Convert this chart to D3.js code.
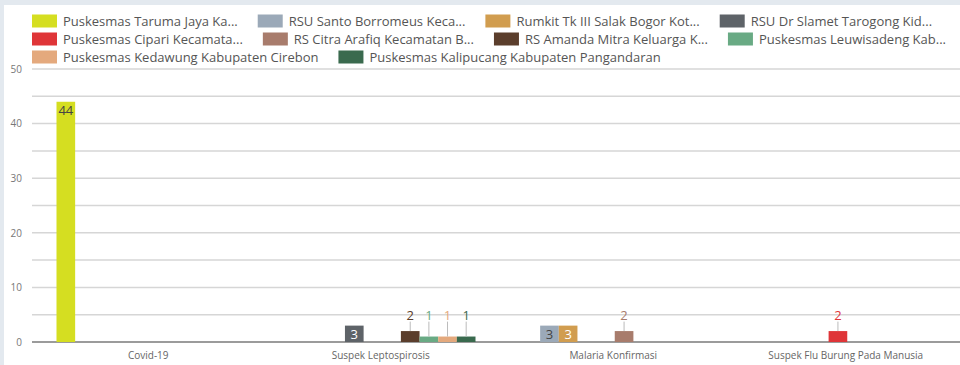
<!DOCTYPE html>
<html>
<head>
<meta charset="utf-8">
<script src="https://cdn.jsdelivr.net/npm/d3@7"></script>
<style>
  body { margin: 0; background: #e3e9ef; }
  svg { display: block; }
</style>
</head>
<body>
<script>

// Chart data
var categories = ["Covid-19", "Suspek Leptospirosis", "Malaria Konfirmasi", "Suspek Flu Burung Pada Manusia"];

var seriesNames = [
  "Puskesmas Taruma Jaya Ka...",
  "RSU Santo Borromeus Keca...",
  "Rumkit Tk III Salak Bogor Kot...",
  "RSU Dr Slamet Tarogong Kid...",
  "Puskesmas Cipari Kecamata...",
  "RS Citra Arafiq Kecamatan B...",
  "RS Amanda Mitra Keluarga K...",
  "Puskesmas Leuwisadeng Kab...",
  "Puskesmas Kedawung Kabupaten Cirebon",
  "Puskesmas Kalipucang Kabupaten Pangandaran"
];

var seriesColors = ["#d5de21", "#9ba9b8", "#d19d4f", "#5e6368", "#df3538",
                    "#a87c6c", "#5b3e2c", "#69aa84", "#e4a97d", "#3a6a4e"];

// values per series, one per category
var seriesValues = [
  [44, 0, 0, 0],
  [0, 0, 3, 0],
  [0, 0, 3, 0],
  [0, 3, 0, 0],
  [0, 0, 0, 2],
  [0, 0, 2, 0],
  [0, 2, 0, 0],
  [0, 1, 0, 0],
  [0, 1, 0, 0],
  [0, 1, 0, 0]
];

var yTicks = [0, 10, 20, 30, 40, 50];
var yGrid = [0, 5, 10, 15, 20, 25, 30, 35, 40, 45, 50];

// label colour for labels drawn inside the bar
var insideLabelColors = ["#444", "#444", "#fff", "#fff", "#fff", "#fff", "#fff", "#fff", "#fff", "#fff"];

var svg_width = 960, svg_height = 365;
var plot = {left: 32, right: 962, top: 69, bottom: 342};
var fontFamily = "'Open Sans', sans-serif";

var svg = d3.select("body").append("svg")
            .attr("width", svg_width)
            .attr("height", svg_height);

// Card background
svg.append("rect").attr("x", 4).attr("y", 5)
                  .attr("width", svg_width).attr("height", svg_height)
                  .style("fill", "white");

var xScale = d3.scaleBand()
               .domain(categories)
               .range([plot.left, plot.right]);

var xInner = d3.scaleBand()
               .domain(d3.range(seriesNames.length))
               .range([24.5, xScale.bandwidth() - 21.5]);

var yScale = d3.scaleLinear()
               .domain([0, 50])
               .range([plot.bottom, plot.top]);

// Gridlines
svg.append("g").selectAll("line")
   .data(yGrid)
   .join("line")
   .attr("x1", plot.left).attr("x2", svg_width)
   .attr("y1", function(d) { return yScale(d); })
   .attr("y2", function(d) { return yScale(d); })
   .style("stroke", function(d) { return d === 0 ? "#7a7a7a" : "#d6d6d6"; })
   .style("stroke-width", 1.5);

// Y axis labels
var yAxis = d3.axisLeft(yScale).tickValues(yTicks).tickSize(0).tickPadding(0);
var yAxisG = svg.append("g")
                .attr("transform", "translate(22,0)")
                .call(yAxis);
yAxisG.select(".domain").remove();
yAxisG.selectAll("text")
      .style("font-family", fontFamily)
      .style("font-size", "10px")
      .style("fill", "#777");

// X axis labels
var xAxis = d3.axisBottom(xScale).tickSize(0).tickPadding(0);
var xAxisG = svg.append("g")
                .attr("transform", "translate(0," + (plot.bottom + 10) + ")")
                .call(xAxis);
xAxisG.select(".domain").remove();
xAxisG.selectAll("text")
      .style("font-family", fontFamily)
      .style("font-size", "10px")
      .style("fill", "#666");

// Bars
var barData = [];
seriesValues.forEach(function(vals, s) {
  vals.forEach(function(v, c) {
    if (v > 0) barData.push({series: s, category: categories[c], value: v});
  });
});

var barsGroup = svg.append("g").attr("id", "bars_group");

barsGroup.selectAll("rect")
   .data(barData)
   .join("rect")
   .attr("x", function(d) { return xScale(d.category) + xInner(d.series); })
   .attr("width", xInner.bandwidth())
   .attr("y", function(d) { return yScale(d.value); })
   .attr("height", function(d) { return yScale(0) - yScale(d.value); })
   .style("fill", function(d) { return seriesColors[d.series]; });

// Labels: inside for tall bars, above with a leader line for short ones
var outsideY = yScale(3) - 6;

barData.forEach(function(d) {
  var cx = xScale(d.category) + xInner(d.series) + xInner.bandwidth() / 2;
  var top = yScale(d.value);
  if (d.value >= 3) {
    barsGroup.append("text")
             .attr("x", cx).attr("y", top + 13)
             .attr("text-anchor", "middle")
             .style("font-family", fontFamily)
             .style("font-size", "13px")
             .style("fill", insideLabelColors[d.series])
             .text(d.value);
  } else {
    barsGroup.append("line")
             .attr("x1", cx).attr("x2", cx)
             .attr("y1", outsideY + 2).attr("y2", top)
             .style("stroke", "#bbb")
             .style("stroke-width", 1);
    barsGroup.append("text")
             .attr("x", cx).attr("y", outsideY)
             .attr("text-anchor", "middle")
             .style("font-family", fontFamily)
             .style("font-size", "13px")
             .style("fill", seriesColors[d.series])
             .text(d.value);
  }
});

// Legend (left aligned flow)
var legendGroup = svg.append("g").attr("id", "legend_group");
var lx = 32, ly = 21, rowH = 18, maxX = 956;

seriesNames.forEach(function(name, i) {
  var item = legendGroup.append("g");
  var t = item.append("text")
              .attr("x", 31).attr("y", 4.5)
              .style("font-family", fontFamily)
              .style("font-size", "13px")
              .style("fill", "#555")
              .text(name);
  var w = 31 + t.node().getComputedTextLength();
  if (lx + w > maxX) { lx = 32; ly += rowH; }
  item.append("rect")
      .attr("x", 0).attr("y", -6.5)
      .attr("width", 25).attr("height", 13)
      .style("fill", seriesColors[i]);
  item.attr("transform", "translate(" + lx + "," + ly + ")");
  lx += w + 20;
});

</script>
</body>
</html>
